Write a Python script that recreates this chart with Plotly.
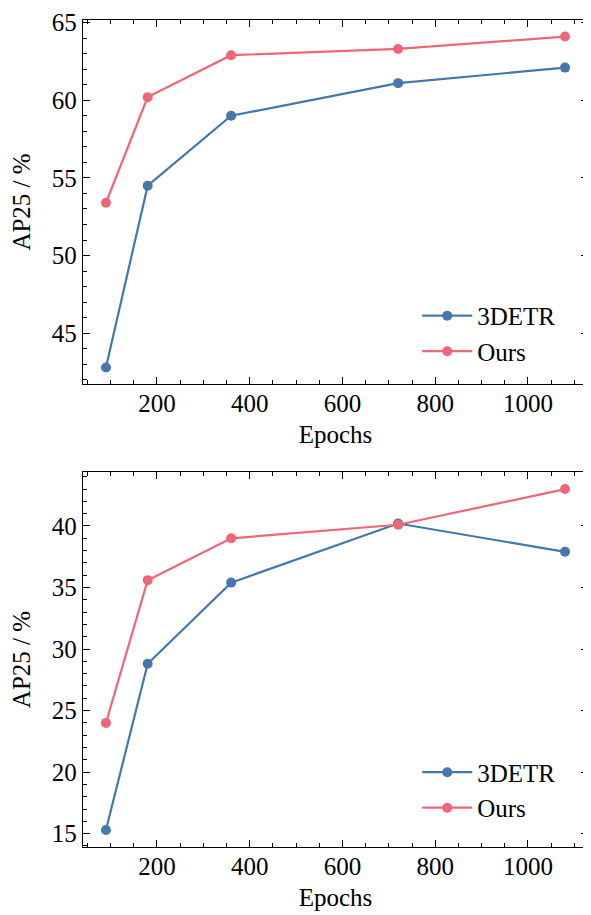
import plotly.graph_objects as go
from plotly.subplots import make_subplots

epochs = [90, 180, 360, 720, 1080]
top_3detr = [42.8, 54.5, 59.0, 61.1, 62.1]
top_ours = [53.4, 60.2, 62.9, 63.3, 64.1]
bot_3detr = [15.3, 28.8, 35.4, 40.2, 37.9]
bot_ours = [24.0, 35.6, 39.0, 40.1, 43.0]
series_names = ["3DETR", "Ours"]
colors = ["#4477AA", "#EE6677"]

FONT = "Liberation Serif"

fig = make_subplots(rows=2, cols=1, vertical_spacing=0.1)

for row, (a, b) in enumerate([(top_3detr, top_ours), (bot_3detr, bot_ours)], start=1):
    for name, vals, col in zip(series_names, [a, b], colors):
        fig.add_trace(go.Scatter(
            x=epochs, y=vals, name=name, mode="lines+markers",
            line=dict(color=col, width=2.2), marker=dict(color=col, size=10),
            legend="legend" if row == 1 else "legend2",
        ), row=row, col=1)

def pad(vals_list):
    lo = min(min(v) for v in vals_list)
    hi = max(max(v) for v in vals_list)
    m = (hi - lo) * 0.05
    return [lo - m, hi + m]

xr = pad([epochs])
yr1 = pad([top_3detr, top_ours])
yr2 = pad([bot_3detr, bot_ours])

axis_common = dict(
    showline=True, linecolor="black", linewidth=1.3, mirror="allticks",
    ticks="inside", ticklen=7, tickwidth=1.2, tickcolor="black",
    showgrid=False, zeroline=False, automargin=False,
    tickfont=dict(family=FONT, size=25, color="black"),
    ticklabeloverflow="allow",
)
minor_common = dict(ticks="inside", ticklen=4, tickwidth=1, tickcolor="black", tick0=0)
title_font = dict(family=FONT, size=25, color="black")

for r in (1, 2):
    fig.update_xaxes(range=xr, dtick=200, tick0=0, ticklabelstandoff=-3,
                     minor=dict(dtick=50, **minor_common),
                     title=dict(text="Epochs", font=title_font, standoff=9),
                     row=r, col=1, **axis_common)

fig.update_yaxes(range=yr1, dtick=5, tick0=0, ticklabelstandoff=0,
                 minor=dict(dtick=1, **minor_common),
                 title=dict(text="AP25 / %", font=title_font, standoff=16),
                 row=1, col=1, **axis_common)
fig.update_yaxes(range=yr2, dtick=5, tick0=0, ticklabelstandoff=0,
                 minor=dict(dtick=1, **minor_common),
                 title=dict(text="AP25 / %", font=title_font, standoff=16),
                 row=2, col=1, **axis_common)

fig.update_layout(
    width=583, height=907,
    margin=dict(l=75, r=3, t=12, b=68),
    plot_bgcolor="white", paper_bgcolor="white",
    xaxis=dict(domain=[0, 1], anchor="y"),
    yaxis=dict(domain=[0.5599, 1.0]),
    xaxis2=dict(domain=[0, 1], anchor="y2"),
    yaxis2=dict(domain=[0.0, 0.4534]),
    legend=dict(x=0.947, y=0.572, xanchor="right", yanchor="bottom",
                font=dict(family=FONT, size=25, color="black"),
                bgcolor="rgba(0,0,0,0)", tracegroupgap=0, itemwidth=50),
    legend2=dict(x=0.947, y=0.02, xanchor="right", yanchor="bottom",
                 font=dict(family=FONT, size=25, color="black"),
                 bgcolor="rgba(0,0,0,0)", tracegroupgap=0, itemwidth=50),
    font=dict(family=FONT, color="black"),
)

fig.write_html("out.html")
